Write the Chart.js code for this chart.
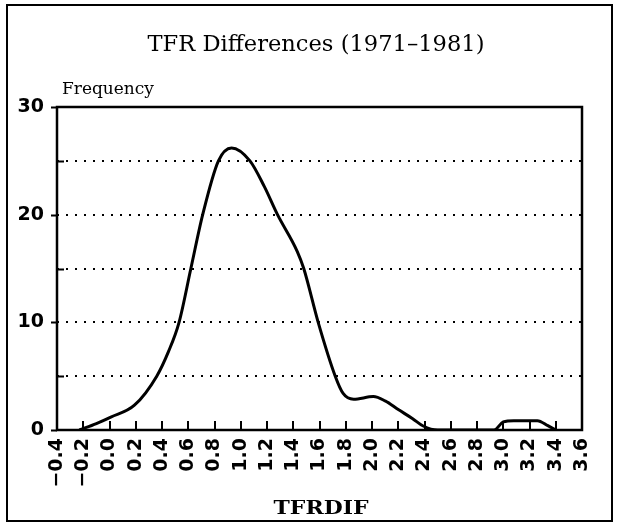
<!DOCTYPE html>
<html><head><meta charset="utf-8">
<script src="https://cdn.jsdelivr.net/npm/chart.js@4/dist/chart.umd.min.js"></script>
<style>html,body{margin:0;padding:0;background:#fff;}#wrap{width:618px;height:526px;position:relative;}</style>
</head><body><div id="wrap"><canvas id="c" width="618" height="526"></canvas></div>
<script>
const chartTitle = 'TFR Differences (1971–1981)';
const yAxisTitle = 'Frequency';
const xAxisTitle = 'TFRDIF';
const xValues = [-0.23, -0.1, 0.01, 0.19, 0.36, 0.45, 0.53, 0.62, 0.71, 0.83, 0.93, 1.07, 1.18, 1.28, 1.43, 1.48, 1.59, 1.72, 1.78, 1.86, 2.01, 2.1, 2.2, 2.31, 2.39, 2.5, 2.93, 3.0, 3.08, 3.26, 3.34, 3.4];
const freqValues = [0, 0.6, 1.2, 2.3, 5, 7.3, 10, 15, 20, 25, 26.2, 25, 22.6, 20, 16.6, 15, 10, 5, 3.4, 2.86, 3.1, 2.7, 1.9, 1.05, 0.37, 0, 0, 0.75, 0.87, 0.87, 0.4, 0];
const xTickValues = [-0.4, -0.2, 0, 0.2, 0.4, 0.6, 0.8, 1.0, 1.2, 1.4, 1.6, 1.8, 2.0, 2.2, 2.4, 2.6, 2.8, 3.0, 3.2, 3.4, 3.6];
const xTickLabels = ['−0.4', '−0.2', '0.0', '0.2', '0.4', '0.6', '0.8', '1.0', '1.2', '1.4', '1.6', '1.8', '2.0', '2.2', '2.4', '2.6', '2.8', '3.0', '3.2', '3.4', '3.6'];
const yTickValues = [0, 5, 10, 15, 20, 25, 30];
const yTickLabels = ['0', '', '10', '', '20', '', '30'];

const points = xValues.map((x, i) => ({x: x, y: freqValues[i]}));

function fitText(ctx, text, font, cx, baseline, width) {
  ctx.save();
  ctx.font = font;
  const w = ctx.measureText(text).width;
  const s = width / w;
  ctx.translate(cx, baseline);
  ctx.scale(s, 1);
  ctx.textAlign = 'center';
  ctx.textBaseline = 'alphabetic';
  ctx.fillStyle = '#000';
  ctx.fillText(text, 0, 0);
  ctx.restore();
}

const decor = {
  id: 'decor',
  afterDraw(chart) {
    const {ctx, chartArea: a, scales} = chart;
    const xs = scales.x, ys = scales.y;
    ctx.save();
    ctx.strokeStyle = '#000';
    ctx.lineWidth = 2;
    ctx.strokeRect(7, 5, 605, 516);
    ctx.lineWidth = 2.5;
    ctx.strokeRect(a.left, a.top, a.right - a.left, a.bottom - a.top);
    ctx.lineWidth = 2;
    ctx.beginPath();
    xTickValues.forEach(v => {
      const px = Math.round(xs.getPixelForValue(v));
      if (px > a.left + 3 && px < a.right - 3) {
        ctx.moveTo(px, a.bottom);
        ctx.lineTo(px, a.bottom - 9);
      }
    });
    yTickValues.forEach(v => {
      const py = Math.round(ys.getPixelForValue(v)) + 0.5;
      if (v % 10 === 0) { ctx.moveTo(a.left - 6, py); ctx.lineTo(a.left, py); }
      else { ctx.moveTo(a.left, py); ctx.lineTo(a.left + 7, py); }
    });
    ctx.stroke();
    ctx.restore();
    fitText(ctx, chartTitle, '23px "DejaVu Serif"', 316, 51, 337);
    ctx.save();
    ctx.font = '17px "DejaVu Serif"';
    ctx.fillStyle = '#000';
    ctx.textAlign = 'left';
    ctx.textBaseline = 'alphabetic';
    ctx.fillText(yAxisTitle, 62, 94);
    ctx.restore();
    fitText(ctx, xAxisTitle, 'bold 19px "DejaVu Serif"', 321, 514, 95);
  }
};

new Chart(document.getElementById('c'), {
  type: 'line',
  data: {
    datasets: [{
      data: points,
      borderColor: '#000',
      borderWidth: 3,
      pointRadius: 0,
      fill: false,
      cubicInterpolationMode: 'monotone',
      tension: 0.4
    }]
  },
  options: {
    responsive: false,
    animation: false,
    devicePixelRatio: 1,
    layout: {padding: {top: 107, right: 36, bottom: 0, left: 0}},
    plugins: {legend: {display: false}, title: {display: false}, tooltip: {enabled: false}},
    scales: {
      x: {
        type: 'linear',
        min: -0.4, max: 3.6,
        afterFit(s) { s.height = 96; },
        afterBuildTicks(s) { s.ticks = xTickValues.map(v => ({value: v})); },
        grid: {display: false, drawTicks: false},
        border: {display: false},
        ticks: {
          autoSkip: false, minRotation: 90, maxRotation: 90, padding: 8,
          color: '#000',
          font: {family: '"DejaVu Sans"', size: 19, weight: 'bold'},
          callback: (v, i) => xTickLabels[i]
        }
      },
      y: {
        min: 0, max: 30,
        afterFit(s) { s.width = 57; },
        afterBuildTicks(s) { s.ticks = yTickValues.map(v => ({value: v})); },
        grid: {
          drawTicks: false,
          lineWidth: 2,
          color: c => (c.tick && c.tick.value > 0 && c.tick.value < 30) ? '#000' : 'rgba(0,0,0,0)'
        },
        border: {display: false, dash: [2, 7]},
        ticks: {
          padding: 13, color: '#000',
          font: {family: '"DejaVu Sans"', size: 19, weight: 'bold'},
          callback: (v, i) => yTickLabels[i]
        }
      }
    }
  },
  plugins: [decor]
});
</script></body></html>
